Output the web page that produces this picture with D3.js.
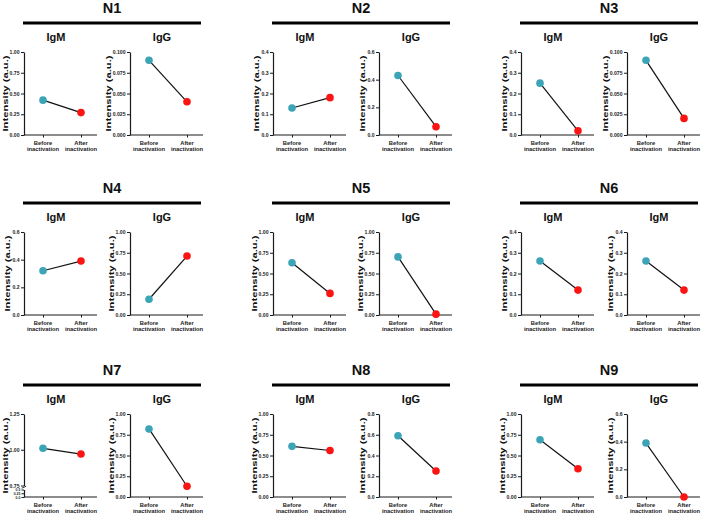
<!DOCTYPE html>
<html><head><meta charset="utf-8">
<script src="https://cdn.jsdelivr.net/npm/d3@7"></script>
<style>body{margin:0;background:#fff} svg{display:block}</style>
</head><body><svg id="c" width="709" height="516"></svg>
<script>
// ---------------- data ----------------
const samples = ["N1","N2","N3","N4","N5","N6","N7","N8","N9"];
const antibodyTitles = [["IgM","IgG"],["IgM","IgG"],["IgM","IgG"],["IgM","IgG"],["IgM","IgG"],["IgM","IgM"],["IgM","IgG"],["IgM","IgG"],["IgM","IgG"]];
const categories = ["Before inactivation","After inactivation"];
const beforeValues = [[0.42,0.090],[0.13,0.43],[0.25,0.090],[0.32,0.19],[0.63,0.70],[0.26,0.26],[1.01,0.82],[0.61,0.59],[0.69,0.39]];
const afterValues  = [[0.27,0.040],[0.18,0.06],[0.02,0.020],[0.39,0.71],[0.26,0.01],[0.12,0.12],[0.97,0.13],[0.56,0.25],[0.34,0.00]];
const yMaxValues   = [[1,0.1],[0.4,0.6],[0.4,0.1],[0.6,1],[1,1],[0.4,0.4],[1.25,1],[1,0.8],[1,0.6]];
const yTickSteps   = [[0.25,0.025],[0.1,0.2],[0.1,0.025],[0.2,0.25],[0.25,0.25],[0.1,0.1],[0.25,0.25],[0.25,0.2],[0.25,0.2]];
const yTickDecimals= [[2,3],[1,1],[1,3],[1,2],[2,2],[1,1],[2,2],[2,1],[2,1]];
// N7 IgM uses a broken y axis
const brokenUpperTicks = [0.75,1.00,1.25];
const brokenLowerTicks = [0.0,0.25,0.5];
const brokenLowerLabels = ["0.0","0.25","0.5"];
const yAxisTitle = "Intensity (a.u.)";

// ---------------- layout ----------------
const colX = [0, 249, 497];
const rowY = [0, 180, 362];
const FONT = "'Liberation Sans', Arial, Helvetica, sans-serif";
const TEAL = "#3ca4b7", RED = "#fa1414", INK = "#1a1a1a";
const svg = d3.select("#c").style("font-family", FONT);

function styleAxis(sel, fs){
  sel.selectAll("path.domain").attr("stroke", INK).attr("stroke-width", 1.2);
  sel.selectAll(".tick line").attr("stroke", INK).attr("stroke-width", 1);
  sel.selectAll(".tick text").attr("font-family", FONT).attr("font-size", fs || 5.1)
     .attr("font-weight", "bold").attr("fill", "#222");
}

samples.forEach((name, i) => {
  const col = i % 3, row = Math.floor(i / 3);
  const g = svg.append("g").attr("transform", `translate(${colX[col]},${rowY[row]})`);
  g.append("text").attr("x", 112).attr("y", 13).attr("text-anchor", "middle")
    .attr("font-size", 14.5).attr("font-weight", "bold").attr("fill", "#111").text(name);
  g.append("line").attr("x1", 23).attr("x2", 201).attr("y1", 23).attr("y2", 23)
    .attr("stroke", "#000").attr("stroke-width", 2.8);

  [0, 1].forEach(k => {
    const ax = k === 0 ? 24 : 130;
    const top = 52, bottom = 135;
    const p = g.append("g");
    p.append("text").attr("x", ax + 32).attr("y", 40.7).attr("text-anchor", "middle")
      .attr("font-size", 11).attr("font-weight", "bold").attr("fill", "#111").text(antibodyTitles[i][k]);

    const x = d3.scalePoint().domain(categories).range([ax + 19, ax + 57]);
    let y, yAxisG;
    const broken = (i === 6 && k === 0);
    if (broken) {
      y = d3.scaleLinear().domain([0.75, 1.25]).range([123.5, top]);
      const yLow = d3.scaleLinear().domain([0, 0.5]).range([bottom, 127.5]);
      yAxisG = p.append("g").attr("transform", `translate(${ax},0)`)
        .call(d3.axisLeft(y).tickValues(brokenUpperTicks).tickSize(3).tickSizeOuter(0).tickPadding(1.5).tickFormat(d3.format(".2f")));
      styleAxis(yAxisG);
      const low = p.append("g").attr("transform", `translate(${ax},0)`)
        .call(d3.axisLeft(yLow).tickValues(brokenLowerTicks).tickSize(2.5).tickSizeOuter(0).tickPadding(1.2).tickFormat((d, j) => brokenLowerLabels[j]));
      styleAxis(low, 3.4);
      // break mark
      p.append("line").attr("x1", ax - 2.2).attr("x2", ax + 2.2).attr("y1", 126.2).attr("y2", 124.2)
        .attr("stroke", INK).attr("stroke-width", 0.9);
    } else {
      const ymax = yMaxValues[i][k], step = yTickSteps[i][k];
      y = d3.scaleLinear().domain([0, ymax]).range([bottom, top]);
      const ticks = d3.range(0, ymax + step / 2, step);
      yAxisG = p.append("g").attr("transform", `translate(${ax},0)`)
        .call(d3.axisLeft(y).tickValues(ticks).tickSize(3).tickSizeOuter(0).tickPadding(1.5)
          .tickFormat(d3.format(`.${yTickDecimals[i][k]}f`)));
      styleAxis(yAxisG);
    }
    // x axis
    const xg = p.append("g").attr("transform", `translate(0,${bottom})`)
      .call(d3.axisBottom(x).tickSize(2.5).tickSizeOuter(0).tickFormat(""));
    xg.select("path.domain").remove();
    styleAxis(xg);
    p.append("line").attr("x1", ax).attr("x2", ax + 73).attr("y1", bottom).attr("y2", bottom)
      .attr("stroke", INK).attr("stroke-width", 1.2);
    categories.forEach(c => {
      const parts = c.split(" ");
      const t = p.append("text").attr("text-anchor", "middle").attr("font-size", 5.8)
        .attr("font-weight", "bold").attr("fill", "#222");
      t.append("tspan").attr("x", x(c)).attr("y", bottom + 9.5).text(parts[0]);
      t.append("tspan").attr("x", x(c)).attr("y", bottom + 16).text(parts[1]);
    });
    // y axis title
    let maxW = 0;
    yAxisG.selectAll(".tick text").each(function(){ maxW = Math.max(maxW, this.getComputedTextLength()); });
    const lx = Math.max(ax - 4.5 - maxW - 4.8, 4.3);
    p.append("text").attr("transform", `translate(${lx},${(top + bottom) / 2}) rotate(-90)`)
      .attr("text-anchor", "middle").attr("dy", "0.35em").attr("font-size", 8)
      .attr("font-weight", "bold").attr("fill", "#111")
      .attr("textLength", 76).attr("lengthAdjust", "spacingAndGlyphs").text(yAxisTitle);

    // data
    const vals = [beforeValues[i][k], afterValues[i][k]];
    const pts = categories.map((c, j) => ({c, v: vals[j]}));
    p.append("path").datum(pts)
      .attr("d", d3.line().x(d => x(d.c)).y(d => y(d.v)))
      .attr("fill", "none").attr("stroke", "#111").attr("stroke-width", 1.2);
    p.selectAll("circle").data(pts).join("circle")
      .attr("cx", d => x(d.c)).attr("cy", d => y(d.v)).attr("r", 3.8)
      .attr("fill", (d, j) => j === 0 ? TEAL : RED);
  });
});
</script></body></html>
